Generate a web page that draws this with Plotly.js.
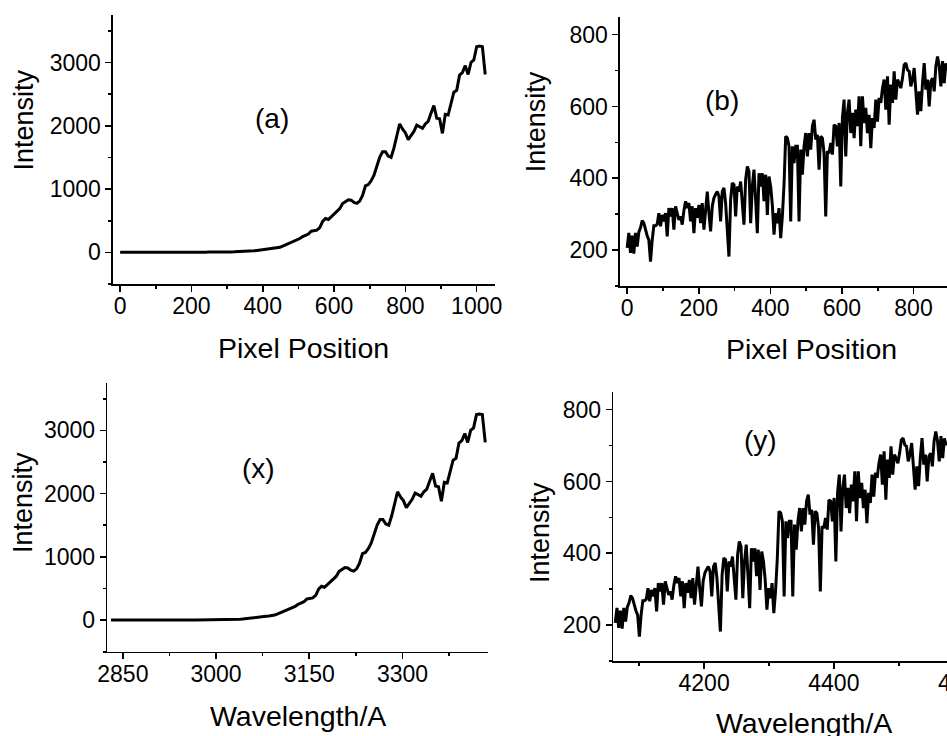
<!DOCTYPE html>
<html>
<head>
<meta charset="utf-8">
<script src="https://cdn.plot.ly/plotly-3.0.1.min.js"></script>
<style>
  html, body { margin: 0; padding: 0; background: #fff; overflow: hidden; }
  #chart { width: 1010px; height: 736px; }
</style>
</head>
<body>
<div id="chart"></div>
<script>
// ---- Data ----
// Spectrum 1: intensity sampled every 8 detector pixels, starting at pixel 0
const pixelStartA = 0;
const pixelStepA = 8;
const intensityA = [
  3,1,2,0,2,1,2,1,0,2,1,1,2,0,1,2,1,2,1,2,1,2,2,1,2,3,2,3,2,3,3,4,3,4,5,4,5,6,6,7,8,9,10,11,
  13,16,20,25,31,37,42,48,54,60,65,71,
  80,100,120,138,156,175,196,218,250,272,290,335,345,350,390,490,535,520,560,600,640,690,770,800,
  830,825,790,775,810,900,1050,1070,1130,1220,1370,1500,1590,1590,1520,1500,1650,1820,2030,1950,
  1890,1780,1850,1910,2010,1990,1960,2030,2070,2200,2320,2120,2110,1880,2180,2170,2340,2530,2560,
  2800,2840,2950,2810,3000,3040,3250,3260,3250,2810
];
// Wavelength calibration of spectrum 1 (Angstrom at first sample, Angstrom per sample)
const wavelengthStartA = 2831;
const wavelengthStepA = 4.704;

// Spectrum 2: intensity sampled every ~4.66 detector pixels, starting at pixel 0
const pixelStartB = 0;
const pixelStepB = 4.662;
const intensityB = [
  206,248,192,240,190,248,210,250,262,282,275,255,240,228,168,228,268,268,272,
  303,266,298,280,303,238,317,294,317,257,322,300,284,294,271,310,336,317,331,280,
  322,247,317,290,326,275,331,257,320,363,303,252,322,345,355,363,350,280,363,373,
  331,247,182,340,387,382,294,377,363,391,340,271,396,433,419,275,377,424,340,247,
  414,377,414,336,410,298,405,377,326,243,303,275,317,233,294,382,517,512,489,280,
  489,442,489,489,280,480,410,489,526,461,526,480,545,563,508,521,424,517,512,470,
  294,475,470,498,466,549,545,489,554,377,568,619,461,582,619,526,582,512,591,545,
  628,489,628,554,596,526,577,484,568,540,619,558,624,610,651,675,591,684,549,661,
  610,698,619,675,665,651,679,716,721,702,698,656,675,707,642,577,642,587,665,721,
  647,675,600,670,679,642,712,739,712,656,726,665,720,700
];
// Wavelength calibration of spectrum 2
const wavelengthStartB = 4063;
const wavelengthStepB = 2.657;

const panelLabels = ["(a)", "(b)", "(x)", "(y)"];
const xTitles = ["Pixel Position", "Pixel Position", "Wavelength/A", "Wavelength/A"];
const yTitle = "Intensity";

// ---- Styling ----
const W = 1010, H = 736;
const FONT = "Liberation Sans, Arial, Helvetica, sans-serif";
function fx(px) { return px / W; }
function fy(py) { return 1 - py / H; }

const traces = [
  { x0: pixelStartA, dx: pixelStepA, y: intensityA, xaxis: "x", yaxis: "y", w: 3 },
  { x0: pixelStartB, dx: pixelStepB, y: intensityB, xaxis: "x2", yaxis: "y2", w: 3 },
  { x0: wavelengthStartA, dx: wavelengthStepA, y: intensityA, xaxis: "x3", yaxis: "y3", w: 3 },
  { x0: wavelengthStartB, dx: wavelengthStepB, y: intensityB, xaxis: "x4", yaxis: "y4", w: 3 }
].map(t => {
  const w = t.w; delete t.w;
  return Object.assign({ type: "scatter", mode: "lines", line: { color: "#000", width: w }, hoverinfo: "skip" }, t);
});

function axis(domain, range, dtick, minorDtick, anchor, isX, tick0) {
  const a = {
    domain: domain, range: range, anchor: anchor,
    showline: true, linecolor: "#000", linewidth: 1.6,
    showgrid: false, zeroline: false,
    ticks: "outside", ticklen: 6, tickwidth: 1.6, tickcolor: "#000",
    dtick: dtick, tickmode: "linear",
    tickfont: { family: FONT, size: 23, color: "#000" },
    minor: { dtick: minorDtick, ticks: "outside", ticklen: 3, tickwidth: 1.6, tickcolor: "#000", showgrid: false },
    fixedrange: true
  };
  if (isX) a.ticklabelstandoff = -5;
  if (tick0 !== undefined) { a.tick0 = tick0; a.minor.tick0 = tick0; }
  return a;
}

const layout = {
  width: W, height: H,
  margin: { l: 0, r: 0, t: 0, b: 0 },
  paper_bgcolor: "#fff", plot_bgcolor: "#fff",
  showlegend: false,
  font: { family: FONT, color: "#000" },
  xaxis:  axis([fx(113), fx(494.5)], [-20, 1050], 200, 100, "y", true),
  yaxis:  axis([fy(284), fy(15)], [-500, 3750], 1000, 500, "x", false),
  xaxis2: axis([fx(620), fx(1003)], [-20, 1050], 200, 100, "y2", true),
  yaxis2: axis([fy(286), fy(16.7)], [100, 850], 200, 100, "x2", false),
  xaxis3: axis([fx(107.3), fx(488.3)], [2825, 3438], 150, 75, "y3", true, 2850),
  yaxis3: axis([fy(651.7), fy(383)], [-500, 3750], 1000, 500, "x3", false),
  xaxis4: axis([fx(613.3), fx(996)], [4060, 4650], 200, 100, "y4", true),
  yaxis4: axis([fy(661), fy(391.7)], [100, 850], 200, 100, "x4", false),
  annotations: []
};

function ann(text, px, py, size, angle) {
  layout.annotations.push({
    text: text, xref: "paper", yref: "paper", x: fx(px), y: fy(py),
    xanchor: "center", yanchor: "middle", showarrow: false,
    textangle: angle || 0, font: { family: FONT, size: size, color: "#000" }
  });
}
// panel labels
ann(panelLabels[0], 271.7, 118, 28);
ann(panelLabels[1], 721.7, 100, 28);
ann(panelLabels[2], 258, 468, 28);
ann(panelLabels[3], 760.7, 440, 28);
// axis titles
ann(yTitle, 23, 120.5, 27, -90);
ann(yTitle, 536.7, 121.5, 27, -90);
ann(yTitle, 23, 503, 27, -90);
ann(yTitle, 540, 533, 27, -90);
ann(xTitles[0], 303, 348, 28.5);
ann(xTitles[1], 811, 349, 28.5);
ann(xTitles[2], 298, 716, 28.5);
ann(xTitles[3], 804, 723, 28.5);

Plotly.newPlot("chart", traces, layout, { staticPlot: true, displayModeBar: false });
</script>
</body>
</html>
